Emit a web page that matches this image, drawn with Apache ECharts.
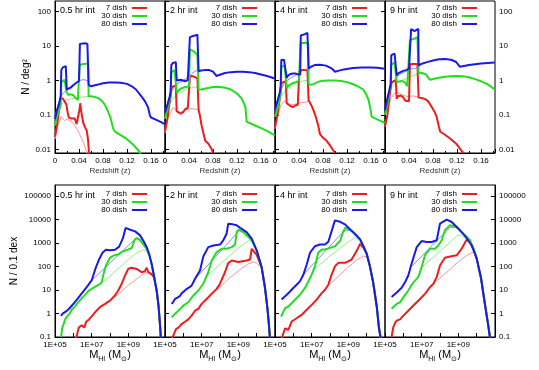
<!DOCTYPE html>
<html>
<head>
<meta charset="utf-8">
<script src="https://cdn.jsdelivr.net/npm/echarts/dist/echarts.min.js"></script>
<style>
  html, body { margin: 0; padding: 0; background: #fff; }
  #main { width: 539px; height: 370px; }
</style>
</head>
<body>
<div id="main"></div>
<script>
// panels (left to right)
var panelNames = ['0.5 hr int', '2 hr int', '4 hr int', '9 hr int'];
var dishNames = ['7 dish', '30 dish', '80 dish'];

// tick labels
var topYTicks = [0.01, 0.1, 1, 10, 100];
var topYLabels = ['0.01', '0.1', '1', '10', '100'];
var botXTicks = [1e5, 1e7, 1e9];
var botXLabels = ['1E+05', '1E+07', '1E+09'];
var botYTicks = [0.1, 1, 10, 100, 1000, 10000, 100000];
var botYLabels = ['0.1', '1', '10', '100', '1000', '10000', '100000'];

// ---- top row: redshift z vs N / deg^2 ----
// 0.5 hr
var zA7 = [[0,0.024],[0.004,0.06],[0.007,0.15],[0.009,0.3],[0.011,0.34],[0.013,0.3],[0.016,0.25],[0.019,0.2],[0.021,0.12],[0.023,0.085],[0.027,0.08],[0.033,0.08],[0.036,0.055],[0.039,0.06],[0.041,0.15],[0.042,0.22],[0.044,0.12],[0.047,0.06],[0.05,0.045],[0.053,0.035],[0.055,0.02],[0.057,0.007]];
var zA30 = [[0,0.05],[0.004,0.1],[0.008,0.16],[0.0095,0.2],[0.0105,0.9],[0.013,1.0],[0.016,1.05],[0.018,1.1],[0.0195,0.45],[0.022,0.38],[0.026,0.4],[0.03,0.38],[0.034,0.32],[0.038,0.27],[0.04,0.28],[0.041,2.5],[0.043,2.9],[0.048,3.0],[0.0555,3.1],[0.056,0.35],[0.06,0.35],[0.065,0.34],[0.072,0.31],[0.078,0.26],[0.083,0.2],[0.088,0.13],[0.092,0.09],[0.097,0.04],[0.1,0.033],[0.11,0.026],[0.117,0.022],[0.125,0.017],[0.133,0.0125],[0.14,0.009],[0.143,0.0075]];
var zA80 = [[0,0.08],[0.004,0.15],[0.007,0.22],[0.0095,0.35],[0.0105,2.0],[0.013,2.4],[0.016,2.6],[0.018,2.6],[0.0195,0.55],[0.022,0.55],[0.026,0.62],[0.03,0.72],[0.035,0.85],[0.04,0.97],[0.0415,11.5],[0.043,12],[0.05,12],[0.054,11.5],[0.0555,11],[0.056,0.75],[0.06,0.68],[0.07,0.75],[0.08,0.83],[0.09,0.87],[0.1,0.88],[0.11,0.86],[0.12,0.8],[0.128,0.68],[0.135,0.55],[0.144,0.35],[0.15,0.25],[0.155,0.17],[0.158,0.1],[0.16,0.085],[0.167,0.075],[0.175,0.065],[0.183,0.055]];
var zA7m = [[0,0.02],[0.005,0.05],[0.01,0.09],[0.013,0.085],[0.016,0.07],[0.02,0.075],[0.025,0.07],[0.03,0.06],[0.035,0.045],[0.04,0.03],[0.045,0.02],[0.05,0.012],[0.054,0.007]];
var zA30m = [[0,0.05],[0.005,0.12],[0.01,0.2],[0.015,0.25],[0.02,0.28],[0.03,0.3],[0.04,0.32],[0.05,0.34],[0.056,0.35]];
var zA80m = [[0,0.09],[0.005,0.2],[0.01,0.35],[0.015,0.45],[0.02,0.55],[0.03,0.75],[0.04,0.97],[0.045,1.05],[0.05,1.05],[0.056,0.95]];
// 2 hr
var zB7 = [[0,0.034],[0.004,0.08],[0.007,0.2],[0.0095,0.35],[0.0105,0.6],[0.014,0.68],[0.018,0.7],[0.0195,0.13],[0.022,0.12],[0.026,0.11],[0.03,0.12],[0.034,0.15],[0.038,0.16],[0.041,0.16],[0.0415,1.3],[0.045,1.35],[0.05,1.25],[0.054,1.15],[0.0555,1.1],[0.056,0.14],[0.058,0.1],[0.061,0.05],[0.064,0.03],[0.067,0.018],[0.072,0.015],[0.077,0.011],[0.08,0.008]];
var zB30 = [[0,0.08],[0.004,0.15],[0.008,0.3],[0.0095,0.4],[0.0105,1.7],[0.013,1.9],[0.016,2.0],[0.018,1.9],[0.0195,0.45],[0.022,0.5],[0.026,0.58],[0.03,0.62],[0.035,0.65],[0.04,0.68],[0.0415,8],[0.045,7.5],[0.05,6.5],[0.054,5.5],[0.0555,5.2],[0.056,0.54],[0.06,0.55],[0.07,0.6],[0.08,0.65],[0.09,0.66],[0.1,0.62],[0.11,0.55],[0.12,0.42],[0.128,0.3],[0.134,0.17],[0.136,0.065],[0.14,0.06],[0.15,0.05],[0.16,0.042],[0.17,0.035],[0.183,0.026]];
var zB80 = [[0,0.12],[0.004,0.2],[0.008,0.35],[0.0095,0.5],[0.0105,2.8],[0.013,3.2],[0.016,3.5],[0.018,3.4],[0.0195,1.0],[0.022,1.05],[0.026,1.05],[0.03,1.0],[0.034,0.95],[0.038,1.05],[0.041,1.1],[0.0415,18],[0.045,19],[0.05,20],[0.054,21],[0.0555,21],[0.056,1.85],[0.06,1.95],[0.066,2.0],[0.074,2.0],[0.08,1.8],[0.086,1.35],[0.09,1.45],[0.1,1.65],[0.11,1.75],[0.12,1.8],[0.13,1.8],[0.14,1.75],[0.15,1.65],[0.16,1.5],[0.17,1.35],[0.183,1.15]];
var zB7m = [[0,0.03],[0.005,0.08],[0.01,0.13],[0.014,0.17],[0.017,0.15],[0.02,0.12],[0.025,0.12],[0.03,0.13],[0.035,0.14],[0.04,0.15],[0.045,0.155],[0.05,0.15],[0.056,0.14]];
var zB30m = [[0,0.08],[0.005,0.15],[0.01,0.25],[0.015,0.33],[0.02,0.4],[0.03,0.5],[0.04,0.6],[0.05,0.65],[0.056,0.6]];
var zB80m = [[0,0.12],[0.005,0.25],[0.01,0.45],[0.015,0.65],[0.02,0.8],[0.03,1.0],[0.04,1.3],[0.045,1.6],[0.05,1.85],[0.056,2.0]];
// 4 hr
var zC7 = [[0,0.044],[0.004,0.1],[0.008,0.3],[0.0095,0.5],[0.0105,0.8],[0.014,0.9],[0.018,0.95],[0.0195,0.22],[0.022,0.2],[0.026,0.18],[0.03,0.17],[0.034,0.19],[0.038,0.2],[0.04,0.2],[0.0405,1.9],[0.045,2.0],[0.05,2.0],[0.054,1.95],[0.0555,1.9],[0.056,0.27],[0.06,0.2],[0.064,0.14],[0.068,0.09],[0.072,0.05],[0.075,0.028],[0.08,0.022],[0.086,0.018],[0.092,0.013],[0.1,0.008]];
var zC30 = [[0,0.09],[0.004,0.15],[0.008,0.3],[0.0095,0.5],[0.0105,2.4],[0.013,2.6],[0.016,2.8],[0.018,2.8],[0.0195,0.6],[0.022,0.7],[0.026,0.78],[0.03,0.85],[0.035,0.9],[0.04,1.0],[0.0425,12],[0.045,12.5],[0.05,12.3],[0.0555,12],[0.056,0.8],[0.06,0.75],[0.065,0.8],[0.072,0.92],[0.08,0.98],[0.09,1.0],[0.1,1.0],[0.11,0.97],[0.12,0.9],[0.125,0.85],[0.135,0.72],[0.147,0.55],[0.152,0.4],[0.156,0.27],[0.159,0.15],[0.161,0.09],[0.17,0.075],[0.183,0.06]];
var zC80 = [[0,0.14],[0.004,0.25],[0.008,0.45],[0.0095,0.7],[0.0105,3.9],[0.013,4.2],[0.015,4.0],[0.017,4.5],[0.018,4.5],[0.0195,1.2],[0.022,1.4],[0.026,1.55],[0.03,1.6],[0.034,1.6],[0.038,1.5],[0.042,1.5],[0.043,20],[0.046,21],[0.05,22],[0.054,24],[0.0555,24],[0.056,2.2],[0.06,2.5],[0.066,2.8],[0.075,2.85],[0.085,2.7],[0.095,2.2],[0.1,1.8],[0.105,1.9],[0.115,2.1],[0.13,2.3],[0.145,2.4],[0.16,2.4],[0.17,2.35],[0.183,2.2]];
var zC7m = [[0,0.04],[0.005,0.1],[0.01,0.2],[0.015,0.25],[0.02,0.23],[0.025,0.2],[0.03,0.2],[0.035,0.21],[0.04,0.22],[0.045,0.23],[0.05,0.23],[0.056,0.25]];
var zC30m = [[0,0.09],[0.005,0.2],[0.01,0.35],[0.015,0.45],[0.02,0.55],[0.03,0.75],[0.04,0.9],[0.05,1.0],[0.056,1.0]];
var zC80m = [[0,0.13],[0.005,0.3],[0.01,0.55],[0.015,0.8],[0.02,1.0],[0.03,1.3],[0.04,1.6],[0.045,1.9],[0.05,2.1],[0.056,2.2]];
// 9 hr
var zD7 = [[0,0.047],[0.004,0.1],[0.007,0.3],[0.0095,0.6],[0.0105,0.85],[0.014,0.95],[0.018,1.0],[0.0195,0.3],[0.022,0.35],[0.026,0.37],[0.03,0.33],[0.034,0.26],[0.037,0.23],[0.04,0.25],[0.0415,2.9],[0.045,3.0],[0.05,3.0],[0.054,3.0],[0.0555,2.9],[0.056,0.32],[0.062,0.31],[0.067,0.29],[0.072,0.25],[0.078,0.17],[0.083,0.12],[0.086,0.09],[0.09,0.045],[0.092,0.033],[0.1,0.027],[0.11,0.02],[0.12,0.014],[0.128,0.009],[0.131,0.008]];
var zD30 = [[0,0.1],[0.004,0.2],[0.007,0.45],[0.0095,0.8],[0.0105,2.8],[0.013,3.1],[0.016,3.4],[0.018,3.5],[0.0195,0.9],[0.022,0.95],[0.026,0.95],[0.03,0.95],[0.034,0.85],[0.037,0.68],[0.04,0.72],[0.0415,14.5],[0.045,15.5],[0.05,16.5],[0.054,18],[0.0555,18],[0.056,1.6],[0.062,1.65],[0.068,1.5],[0.075,1.05],[0.08,1.1],[0.09,1.2],[0.1,1.28],[0.11,1.33],[0.12,1.35],[0.13,1.33],[0.14,1.25],[0.15,1.1],[0.16,0.95],[0.17,0.8],[0.183,0.55]];
var zD80 = [[0,0.14],[0.004,0.3],[0.007,0.5],[0.0095,0.8],[0.0105,5.4],[0.013,5.8],[0.016,6.0],[0.018,5.8],[0.0195,1.4],[0.022,1.6],[0.026,1.75],[0.03,1.9],[0.035,2.0],[0.04,2.2],[0.043,2.2],[0.0435,31],[0.046,32],[0.049,27],[0.052,30],[0.0555,31],[0.056,2.7],[0.06,3.0],[0.07,3.4],[0.08,3.8],[0.09,4.1],[0.1,4.2],[0.11,4.0],[0.118,3.5],[0.125,2.5],[0.14,2.8],[0.16,3.1],[0.183,3.3]];
var zD7m = [[0,0.045],[0.005,0.15],[0.01,0.3],[0.015,0.42],[0.02,0.45],[0.025,0.42],[0.03,0.38],[0.035,0.35],[0.04,0.35],[0.045,0.36],[0.05,0.35],[0.056,0.33]];
var zD30m = [[0,0.1],[0.005,0.3],[0.01,0.6],[0.015,0.8],[0.02,0.9],[0.03,1.05],[0.04,1.2],[0.05,1.45],[0.056,1.6]];
var zD80m = [[0,0.14],[0.005,0.4],[0.01,0.75],[0.015,1.0],[0.02,1.3],[0.03,1.7],[0.04,2.0],[0.045,2.2],[0.05,2.2],[0.056,2.6]];

// ---- bottom row: log10 M_HI vs log10 N per 0.1 dex ----
// 0.5 hr
var mA7 = [[6.15,-1.05],[6.3,-0.6],[6.45,-0.5],[6.55,-0.5],[6.6,-0.6],[6.7,-0.35],[6.85,-0.25],[7.0,-0.12],[7.18,0.05],[7.45,0.27],[7.73,0.41],[8.0,0.55],[8.27,0.77],[8.45,0.98],[8.64,1.27],[8.82,1.62],[9.0,1.91],[9.18,1.95],[9.45,1.9],[9.73,1.76],[9.9,1.8],[10.0,1.95],[10.09,1.76],[10.27,1.68],[10.4,1.55],[10.55,0.95],[10.65,0.3],[10.72,-0.4],[10.78,-1.1]];
var mA30 = [[5.33,-1.0],[5.4,-0.6],[5.47,-0.45],[5.52,-0.5],[5.56,-0.23],[5.62,-0.28],[5.7,-0.09],[5.8,0.0],[5.95,0.2],[6.1,0.3],[6.2,0.41],[6.35,0.55],[6.5,0.69],[6.7,0.85],[6.85,0.98],[7.0,1.05],[7.2,1.15],[7.45,1.25],[7.55,1.35],[7.65,1.7],[7.78,2.05],[8.0,2.38],[8.2,2.47],[8.45,2.52],[8.64,2.62],[8.9,2.7],[9.18,2.78],[9.33,3.12],[9.45,3.22],[9.64,3.12],[9.82,2.95],[10.0,2.75],[10.15,2.45],[10.27,2.12],[10.4,1.6],[10.55,0.95],[10.65,0.3],[10.72,-0.4],[10.78,-1.1]];
var mA80 = [[5.33,-0.1],[5.42,0.0],[5.48,0.05],[5.52,-0.02],[5.58,0.08],[5.65,0.05],[5.7,0.15],[5.78,0.2],[5.85,0.28],[5.95,0.33],[6.05,0.45],[6.15,0.55],[6.3,0.7],[6.45,0.85],[6.6,1.0],[6.8,1.2],[7.0,1.41],[7.2,1.9],[7.4,2.3],[7.6,2.6],[7.78,2.72],[8.0,2.7],[8.27,2.72],[8.5,2.85],[8.7,3.2],[8.85,3.65],[9.1,3.57],[9.37,3.5],[9.64,3.33],[9.82,3.1],[10.0,2.83],[10.15,2.5],[10.27,2.12],[10.4,1.6],[10.55,0.95],[10.65,0.3],[10.72,-0.4],[10.78,-1.1]];
var mA7m = [[8.1,0.62],[8.5,0.85],[9.0,1.2],[9.5,1.5],[9.95,1.76],[10.1,1.72],[10.27,1.62],[10.4,1.5]];
var mA30m = [[7.55,1.3],[8.0,1.6],[8.5,1.95],[9.0,2.3],[9.5,2.6],[9.82,2.72],[10.0,2.65],[10.15,2.45]];
var mA80m = [[7.0,1.41],[8.0,2.15],[9.0,2.9],[9.45,3.22],[9.7,3.15],[9.85,3.05],[10.0,2.83]];
// 2 hr
var mB7 = [[5.36,-1.05],[5.45,-0.95],[5.55,-1.0],[5.6,-0.66],[5.73,-0.6],[5.82,-0.66],[5.9,-0.45],[6.0,-0.45],[6.09,-0.35],[6.27,-0.25],[6.45,-0.09],[6.64,0.12],[6.82,0.2],[7.0,0.41],[7.27,0.62],[7.55,0.84],[7.82,1.05],[8.0,1.27],[8.27,1.76],[8.45,2.15],[8.64,2.26],[9.0,2.2],[9.45,2.26],[9.64,2.3],[9.73,2.76],[9.82,2.69],[10.0,2.5],[10.27,1.98],[10.45,1.12],[10.58,0.27],[10.66,-0.4],[10.73,-1.1]];
var mB30 = [[5.36,-0.16],[5.5,-0.05],[5.64,0.05],[5.72,0.0],[5.82,0.19],[6.0,0.34],[6.1,0.3],[6.27,0.48],[6.55,0.77],[6.82,0.98],[7.09,1.27],[7.36,1.76],[7.55,2.26],[7.82,2.62],[8.09,2.76],[8.36,2.76],[8.64,2.83],[8.82,2.94],[8.91,3.47],[9.0,3.57],[9.27,3.47],[9.55,3.26],[9.73,3.12],[10.0,2.69],[10.27,1.98],[10.45,1.12],[10.58,0.27],[10.66,-0.4],[10.73,-1.1]];
var mB80 = [[5.36,0.41],[5.45,0.5],[5.55,0.62],[5.6,0.55],[5.7,0.69],[5.82,0.75],[5.9,0.85],[6.0,0.9],[6.18,1.05],[6.3,1.1],[6.45,1.19],[6.64,1.48],[6.91,1.83],[7.09,2.43],[7.36,2.83],[7.64,2.9],[8.0,2.94],[8.18,3.12],[8.36,3.4],[8.45,3.83],[8.7,3.8],[8.91,3.76],[9.1,3.65],[9.45,3.47],[9.73,3.19],[10.0,2.69],[10.27,1.98],[10.45,1.12],[10.58,0.27],[10.66,-0.4],[10.73,-1.1]];
var mB7m = [[7.82,1.0],[8.5,1.5],[9.0,1.82],[9.5,2.1],[9.82,2.2],[10.0,2.15],[10.25,1.98]];
var mB30m = [[7.3,1.6],[8.0,2.1],[9.0,2.78],[9.55,3.1],[9.75,3.08],[9.91,2.9]];
var mB80m = [[6.64,1.48],[7.5,2.2],[8.5,3.05],[9.0,3.5],[9.1,3.62]];
// 4 hr
var mC7 = [[5.33,-1.13],[5.55,-0.63],[5.73,-0.7],[5.91,-0.34],[6.0,-0.41],[6.18,-0.2],[6.45,-0.06],[6.73,0.16],[7.0,0.37],[7.27,0.59],[7.55,0.87],[7.73,1.01],[7.91,1.23],[8.09,1.66],[8.27,2.01],[8.45,2.16],[8.82,2.16],[9.18,2.3],[9.45,2.66],[9.64,2.97],[9.82,2.8],[10.0,2.55],[10.18,2.0],[10.36,1.3],[10.55,0.3],[10.67,-0.6],[10.78,-1.13]];
var mC30 = [[5.33,-0.13],[5.55,0.23],[5.73,0.3],[5.91,0.44],[6.09,0.59],[6.36,0.8],[6.64,1.09],[6.82,1.37],[7.0,1.66],[7.18,2.01],[7.36,2.59],[7.55,2.73],[7.73,2.73],[8.0,2.8],[8.27,2.87],[8.55,3.09],[8.73,3.51],[8.85,3.66],[9.18,3.51],[9.45,3.3],[9.64,3.16],[9.82,2.87],[10.0,2.55],[10.18,2.0],[10.36,1.3],[10.55,0.3],[10.67,-0.6],[10.78,-1.13]];
var mC80 = [[5.36,0.6],[5.64,0.8],[5.82,0.94],[6.0,1.09],[6.18,1.23],[6.36,1.37],[6.55,1.66],[6.73,2.09],[6.91,2.59],[7.18,2.87],[7.45,2.94],[7.73,2.94],[7.91,3.06],[8.09,3.51],[8.27,3.97],[8.55,3.91],[8.82,3.8],[9.09,3.59],[9.36,3.4],[9.64,3.16],[9.82,2.87],[10.0,2.55],[10.18,2.0],[10.36,1.3],[10.55,0.3],[10.67,-0.6],[10.78,-1.13]];
var mC7m = [[7.91,1.2],[8.5,1.62],[9.0,1.98],[9.5,2.3],[9.82,2.45],[10.0,2.42],[10.12,2.15]];
var mC30m = [[7.09,1.85],[8.0,2.45],[9.0,3.05],[9.36,3.23],[9.6,3.15],[9.82,2.87]];
var mC80m = [[6.55,1.66],[7.5,2.45],[8.5,3.3],[8.82,3.52],[9.09,3.56],[9.36,3.4]];
// 9 hr
var mD7 = [[5.36,-0.99],[5.45,-0.59],[5.55,-0.4],[5.64,-0.3],[5.73,-0.38],[5.82,-0.25],[6.0,-0.09],[6.27,0.12],[6.55,0.34],[6.91,0.62],[7.18,0.84],[7.45,1.12],[7.64,1.27],[7.82,1.55],[8.0,2.05],[8.27,2.38],[8.55,2.43],[8.91,2.48],[9.18,2.76],[9.45,3.14],[9.64,3.05],[9.82,2.75],[10.0,2.35],[10.24,1.5],[10.45,0.4],[10.64,-0.55],[10.73,-1.05]];
var mD30 = [[5.36,0.2],[5.64,0.41],[5.82,0.48],[6.0,0.69],[6.27,0.98],[6.55,1.33],[6.82,1.55],[7.0,1.98],[7.18,2.48],[7.45,2.76],[7.73,2.76],[7.91,2.9],[8.09,3.12],[8.27,3.55],[8.55,3.76],[8.91,3.69],[9.27,3.4],[9.64,3.12],[9.82,2.8],[10.0,2.35],[10.24,1.5],[10.45,0.4],[10.64,-0.55],[10.73,-1.05]];
var mD80 = [[5.36,0.7],[5.64,0.9],[5.91,1.1],[6.09,1.33],[6.27,1.62],[6.45,2.12],[6.73,2.83],[7.0,3.09],[7.27,3.05],[7.55,3.05],[7.82,3.12],[8.0,3.83],[8.36,4.0],[8.64,3.9],[8.91,3.69],[9.18,3.47],[9.45,3.22],[9.73,2.9],[10.0,2.35],[10.24,1.5],[10.45,0.4],[10.64,-0.55],[10.73,-1.05]];
var mD7m = [[7.64,1.27],[8.5,1.85],[9.0,2.2],[9.5,2.5],[9.82,2.62],[10.0,2.4],[10.1,2.0]];
var mD30m = [[7.0,1.98],[8.0,2.65],[8.91,3.3],[9.1,3.35],[9.4,3.2],[9.6,3.1]];
var mD80m = [[6.45,2.0],[7.5,2.85],[8.55,3.66],[8.8,3.68],[9.0,3.62]];

var topData = [[zA7, zA30, zA80, zA7m, zA30m, zA80m], [zB7, zB30, zB80, zB7m, zB30m, zB80m],
               [zC7, zC30, zC80, zC7m, zC30m, zC80m], [zD7, zD30, zD80, zD7m, zD30m, zD80m]];
var botData = [[mA7, mA30, mA80, mA7m, mA30m, mA80m], [mB7, mB30, mB80, mB7m, mB30m, mB80m],
               [mC7, mC30, mC80, mC7m, mC30m, mC80m], [mD7, mD30, mD80, mD7m, mD30m, mD80m]];

var thickColors = ['#ee1c1c', '#22dd22', '#1a1ae6'];
var thinColors = ['#ff9494', '#8eee8e', '#8888f4'];
var FONT = 'Liberation Sans, Arial, sans-serif';

function tickFormatter(ticks, labels) {
  return function (v) {
    for (var i = 0; i < ticks.length; i++) {
      if (Math.abs(Math.log10(v) - Math.log10(ticks[i])) < 0.01) return labels[i];
    }
    return '';
  };
}
// fresh objects for each axis (sharing them between axes broke setOption)
function tickStyle() {
  return {show: true, inside: true, length: 4, lineStyle: {color: '#000'}};
}
function lineAxis() {
  return {show: true, lineStyle: {color: '#000'}};
}

var grids = [], xAxes = [], yAxes = [], series = [], legends = [], titles = [];
var W = 110, L0 = 55;

for (var row = 0; row < 2; row++) {
  for (var p = 0; p < 4; p++) {
    var gi = row * 4 + p;
    grids.push({left: L0 + W * p, top: row === 0 ? 1 : 185, width: W, height: 152,
      show: true, borderColor: '#000', borderWidth: 1});

    if (row === 0) {
      xAxes.push({type: 'value', gridIndex: gi, min: 0, max: 0.1833, interval: 0.04,
        axisLine: lineAxis(), axisTick: tickStyle(),
        minorTick: {show: true, splitNumber: 2, length: 2, lineStyle: {color: '#000'}},
        axisLabel: {fontSize: 8, color: '#000', fontFamily: FONT, margin: 4, showMaxLabel: false},
        splitLine: {show: false}, minorSplitLine: {show: false},
        name: 'Redshift (z)', nameLocation: 'middle', nameGap: 14,
        nameTextStyle: {fontSize: 8, color: '#333', fontFamily: FONT}});
      yAxes.push({type: 'log', gridIndex: gi, min: 0.008, max: 200,
        position: p === 3 ? 'right' : 'left',
        axisLine: lineAxis(), axisTick: tickStyle(),
        axisLabel: {show: p === 0 || p === 3, fontSize: 8, color: '#000', fontFamily: FONT, margin: 4,
          showMinLabel: false, showMaxLabel: false, formatter: tickFormatter(topYTicks, topYLabels)},
        splitLine: {show: false},
        name: p === 0 ? 'N / deg²' : '', nameLocation: 'middle', nameGap: 24,
        nameTextStyle: {fontSize: 10, color: '#000', fontFamily: FONT}});
    } else {
      xAxes.push({type: 'log', gridIndex: gi, min: 1e5, max: 1e11, splitNumber: 6,
        axisLine: lineAxis(), axisTick: tickStyle(),
        axisLabel: {fontSize: 8, color: '#000', fontFamily: FONT, margin: 4, showMaxLabel: false,
          formatter: tickFormatter(botXTicks, botXLabels)},
        splitLine: {show: false},
        name: 'M{sub|HI} (M{sub|⊙})', nameLocation: 'middle', nameGap: 11,
        nameTextStyle: {fontSize: 11, color: '#000', fontFamily: FONT,
          rich: {sub: {fontSize: 7, fontFamily: FONT, color: '#000', padding: [7, 0, 0, 0]}}}});
      yAxes.push({type: 'log', gridIndex: gi, min: 0.1, max: 3e5,
        position: p === 3 ? 'right' : 'left',
        axisLine: lineAxis(), axisTick: tickStyle(),
        axisLabel: {show: p === 0 || p === 3, fontSize: 8, color: '#000', fontFamily: FONT, margin: 4,
          showMaxLabel: false, formatter: tickFormatter(botYTicks, botYLabels)},
        splitLine: {show: false},
        name: p === 0 ? 'N / 0.1 dex' : '', nameLocation: 'middle', nameGap: 36,
        nameTextStyle: {fontSize: 10, color: '#000', fontFamily: FONT}});
    }

    var sets = row === 0 ? topData[p] : botData[p];
    var isLog = row === 1;
    // thin model curves first, thick ones over them
    for (var k = 0; k < 6; k++) {
      var c = k % 3, thin = k >= 3;
      var pts = [];
      for (var j = 0; j < sets[k].length; j++) {
        var d = sets[k][j];
        pts.push(isLog ? [Math.pow(10, d[0]), Math.pow(10, d[1])] : [d[0], d[1]]);
      }
      var col = thin ? thinColors[c] : thickColors[c];
      series.push({
        type: 'line', xAxisIndex: gi, yAxisIndex: gi,
        name: thin ? dishNames[c] + ' model' : dishNames[c],
        data: pts, showSymbol: false,
        z: thin ? 2 : 3 + c,
        itemStyle: {color: col},
        lineStyle: {width: thin ? 1 : 2, color: col}
      });
    }

    legends.push({data: dishNames.slice(), orient: 'vertical', align: 'right', selectedMode: false,
      right: 392 - W * p, top: row === 0 ? 4 : 190, itemGap: 0,
      itemWidth: 15, itemHeight: 2, icon: 'rect', padding: 0,
      textStyle: {fontSize: 8, lineHeight: 7, color: '#000', fontFamily: FONT}});

    titles.push({text: panelNames[p], left: L0 + W * p + 5, top: row === 0 ? 6 : 191, padding: 0,
      textStyle: {fontSize: 9, fontWeight: 'normal', color: '#000', fontFamily: FONT}});
  }
}

var chart = echarts.init(document.getElementById('main'));
chart.setOption({
  animation: false,
  title: titles,
  legend: legends,
  grid: grids,
  xAxis: xAxes,
  yAxis: yAxes,
  series: series
});
</script>
</body>
</html>
